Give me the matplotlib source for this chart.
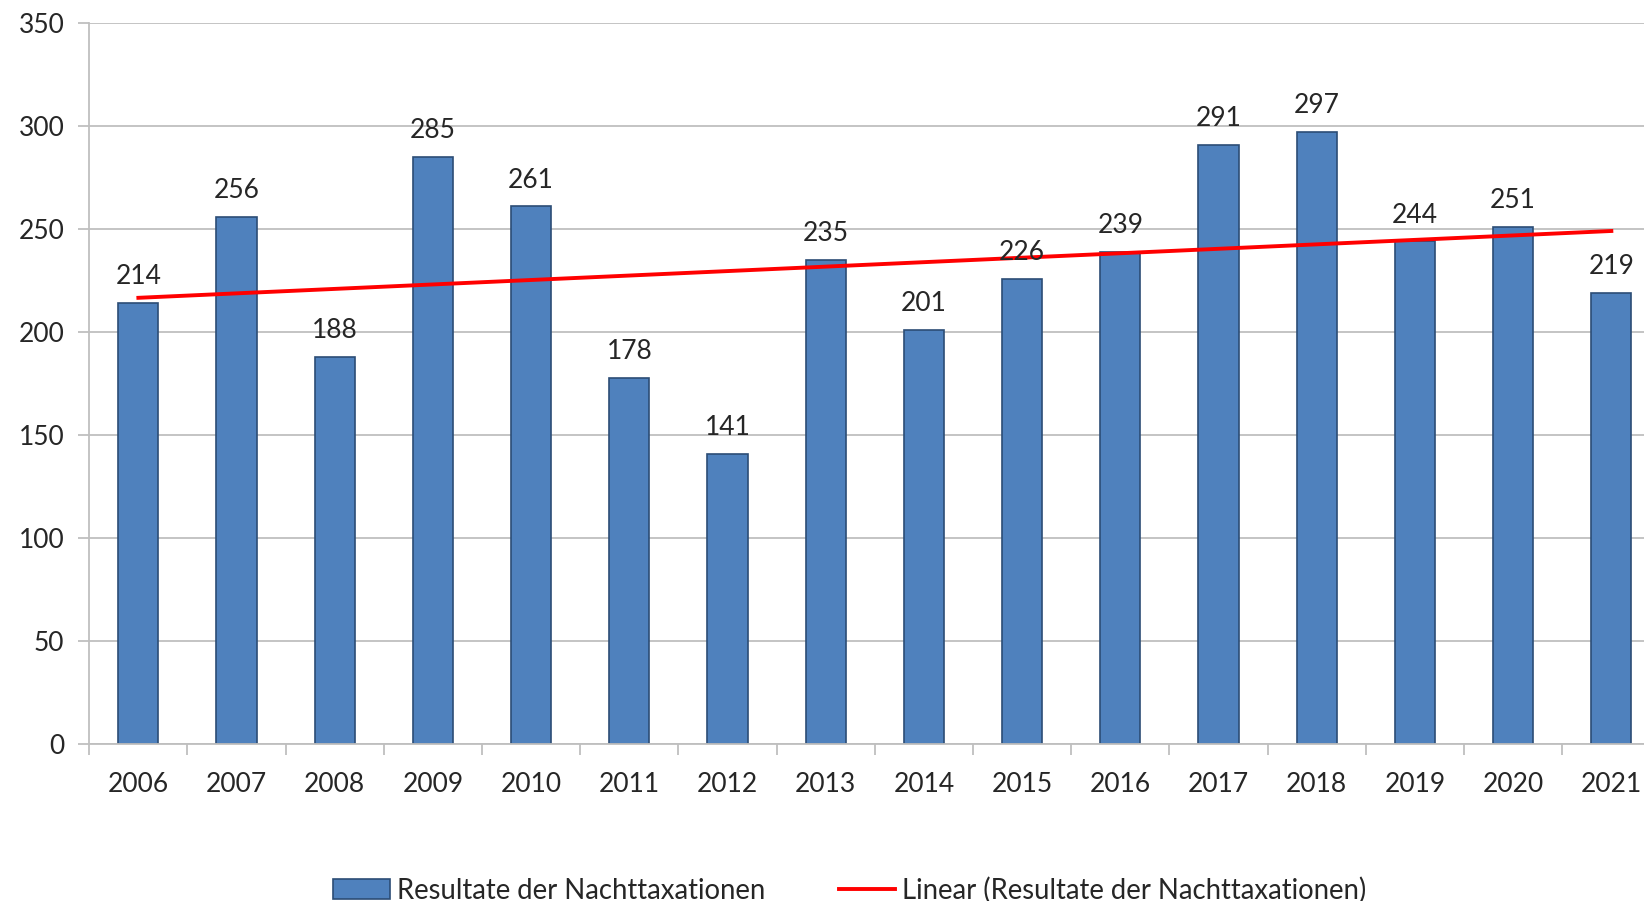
from matplotlib import pyplot as plt
import numpy as np

plt.rcParams['font.family'] = ['Lato', 'DejaVu Sans']

years = ["2006", "2007", "2008", "2009", "2010", "2011", "2012", "2013",
         "2014", "2015", "2016", "2017", "2018", "2019", "2020", "2021"]
values = [214, 256, 188, 285, 261, 178, 141, 235, 201, 226, 239, 291, 297, 244, 251, 219]
bar_label = "Resultate der Nachttaxationen"
trend_label = "Linear (Resultate der Nachttaxationen)"

x = np.arange(len(years))
k, b = np.polyfit(x, values, 1)
trend = k * x + b

fig = plt.figure(figsize=(16.44, 9.01), dpi=100)
ax = fig.add_axes([0.0543, 0.1738, 0.9557, 0.8007])

bars = ax.bar(x, values, width=0.41, color="#4F81BD", edgecolor="#2C4D75",
              linewidth=1.2, zorder=2, label=bar_label)
line, = ax.plot(x, trend, color="#FF0000", linewidth=2.8, zorder=3, label=trend_label)

for xi, v in zip(x, values):
    ax.annotate(str(v), (xi, v), xytext=(0, 10), textcoords="offset points",
                ha="center", va="bottom", fontsize=19, color="#262626")

ax.set_xlim(-0.5, len(years) - 0.5)
ax.set_ylim(0, 350)
ax.set_yticks(range(0, 351, 50))
ax.set_xticks(x)
ax.set_xticklabels(years)
ax.set_xticks(np.arange(-0.5, len(years), 1), minor=True)

ax.grid(axis="y", color="#BFBFBF", linewidth=1.3, zorder=0)
ax.tick_params(axis="y", length=8, color="#BFBFBF", width=1.3, labelsize=19,
               labelcolor="#262626", pad=10)
ax.tick_params(axis="x", which="major", length=0, labelsize=19, labelcolor="#262626", pad=20)
ax.tick_params(axis="x", which="minor", length=8, color="#BFBFBF", width=1.3)

for side in ["top", "right"]:
    ax.spines[side].set_visible(False)
for side in ["left", "bottom"]:
    ax.spines[side].set_color("#BFBFBF")
    ax.spines[side].set_linewidth(1.3)

fig.legend(handles=[bars, line], loc="center", bbox_to_anchor=(0.517, 0.012), ncol=2,
           frameon=False, fontsize=19.8, handlelength=2.05, handleheight=0.7,
           handletextpad=0.25, columnspacing=2.7, labelcolor="#262626")

fig.savefig("out.png", dpi=100)
